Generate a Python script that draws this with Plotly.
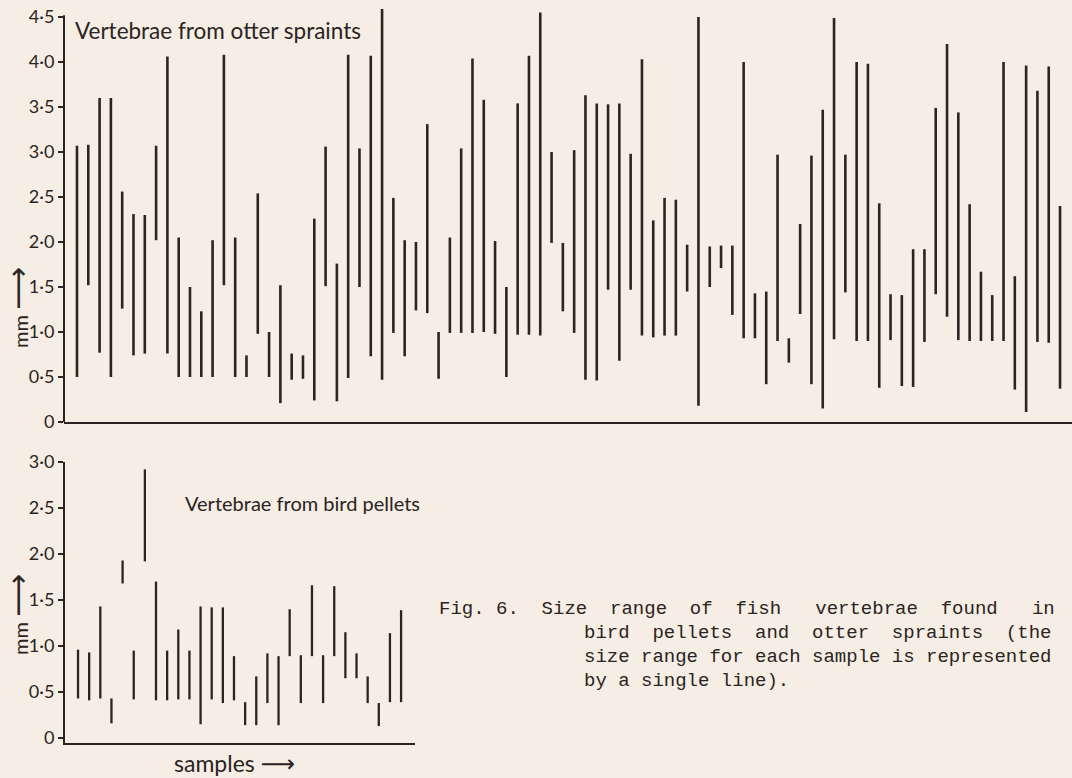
import plotly.graph_objects as go

# ---------------- data ----------------
# Otter spraints: size range (mm) of vertebrae per sample
otter_high = [3.07, 3.08, 3.60, 3.60, 2.56, 2.31, 2.30, 3.07, 4.06, 2.05,
              1.50, 1.23, 2.02, 4.08, 2.05, 0.74, 2.54, 1.00, 1.52, 0.76,
              0.74, 2.26, 3.06, 1.76, 4.08, 3.04, 4.07, 4.59, 2.49, 2.02,
              2.00, 3.31, 1.00, 2.05, 3.04, 4.04, 3.58, 2.01, 1.50, 3.54,
              4.07, 4.55, 3.00, 1.99, 3.02, 3.63, 3.54, 3.53, 3.54, 2.98,
              4.03, 2.24, 2.49, 2.47, 1.97, 4.50, 1.95, 1.96, 1.96, 4.00,
              1.43, 1.45, 2.97, 0.93, 2.20, 2.96, 3.47, 4.49, 2.97, 4.00,
              3.98, 2.43, 1.42, 1.41, 1.92, 1.92, 3.49, 4.20, 3.44, 2.42,
              1.67, 1.41, 4.00, 1.62, 3.96, 3.68, 3.95, 2.40]
otter_low = [0.50, 1.52, 0.77, 0.50, 1.26, 0.74, 0.76, 2.02, 0.76, 0.50,
             0.50, 0.50, 0.50, 1.52, 0.50, 0.50, 0.98, 0.50, 0.21, 0.47,
             0.48, 0.24, 1.51, 0.23, 0.49, 1.50, 0.73, 0.47, 0.99, 0.73,
             1.24, 1.21, 0.48, 0.99, 0.99, 0.99, 1.00, 0.98, 0.50, 0.97,
             0.97, 0.96, 1.99, 1.23, 0.99, 0.47, 0.46, 1.47, 0.68, 1.47,
             0.96, 0.94, 0.96, 0.96, 1.45, 0.18, 1.50, 1.71, 1.19, 0.93,
             0.93, 0.42, 0.90, 0.66, 1.20, 0.42, 0.15, 0.92, 1.44, 0.90,
             0.90, 0.38, 0.91, 0.40, 0.39, 0.89, 1.42, 1.17, 0.91, 0.90,
             0.90, 0.90, 0.90, 0.36, 0.11, 0.89, 0.88, 0.37]

# Bird pellets
bird_high = [0.96, 0.93, 1.43, 0.43, 1.93, 0.95, 2.92, 1.70, 0.95, 1.18,
             0.95, 1.43, 1.42, 1.42, 0.89, 0.39, 0.67, 0.92, 0.89, 1.40,
             0.90, 1.66, 0.90, 1.65, 1.15, 0.92, 0.67, 0.38, 1.14, 1.39]
bird_low = [0.43, 0.41, 0.43, 0.16, 1.68, 0.42, 1.92, 0.41, 0.41, 0.42,
            0.42, 0.15, 0.42, 0.38, 0.41, 0.14, 0.14, 0.38, 0.14, 0.89,
            0.38, 0.89, 0.38, 0.89, 0.65, 0.65, 0.38, 0.13, 0.39, 0.39]

otter_ticks = [0, 0.5, 1.0, 1.5, 2.0, 2.5, 3.0, 3.5, 4.0, 4.5]
otter_ticktext = ["0", "0·5", "1·0", "1·5", "2·0", "2·5", "3·0", "3·5", "4·0", "4·5"]
bird_ticks = [0, 0.5, 1.0, 1.5, 2.0, 2.5, 3.0]
bird_ticktext = ["0", "0·5", "1·0", "1·5", "2·0", "2·5", "3·0"]

title_otter = "Vertebrae from otter spraints"
title_bird = "Vertebrae from bird pellets"
y_label = "mm"
x_label = "samples"
caption_lines = [
    "Fig. 6.  Size  range  of  fish   vertebrae  found   in",
    "bird  pellets  and  otter  spraints  (the",
    "size range for each sample is represented",
    "by a single line).",
]

# ---------------- styling ----------------
W, H = 1072, 778
BG = "#f6ede4"
INK = "#2a2422"
SANS = "Lato, 'DejaVu Sans', sans-serif"
MONO = "'Liberation Mono', 'DejaVu Sans Mono', monospace"


def arrow(size):
    return ("<span style=\"font-family:'DejaVu Sans';font-size:%dpx\">⟶</span>" % size)


def segments(low, high):
    xs, ys = [], []
    for i, (lo, hi) in enumerate(zip(low, high), start=1):
        xs += [i, i, None]
        ys += [lo, hi, None]
    return xs, ys


fig = go.Figure()

ox, oy = segments(otter_low, otter_high)
fig.add_trace(go.Scatter(x=ox, y=oy, mode="lines", xaxis="x", yaxis="y",
                         line=dict(color=INK, width=2.6), hoverinfo="skip",
                         showlegend=False))
bx, by = segments(bird_low, bird_high)
fig.add_trace(go.Scatter(x=bx, y=by, mode="lines", xaxis="x2", yaxis="y2",
                         line=dict(color=INK, width=2.3), hoverinfo="skip",
                         showlegend=False))

n_o = len(otter_high)
n_b = len(bird_high)

tickfont = dict(family=SANS, size=18, color=INK)

fig.update_layout(
    width=W, height=H,
    margin=dict(l=0, r=0, t=0, b=0, autoexpand=False),
    paper_bgcolor=BG, plot_bgcolor=BG,
    xaxis=dict(domain=[64 / W, 1.0], range=[-0.15, n_o + 1.06], automargin=False,
               showgrid=False, zeroline=False, showticklabels=False, ticks="",
               showline=True, linecolor=INK, linewidth=2, anchor="y"),
    yaxis=dict(domain=[(H - 422) / H, 1.0], range=[0, 422 / 90], automargin=False,
               showgrid=False, zeroline=False, showline=False,
               tickvals=otter_ticks, ticktext=otter_ticktext, tickfont=tickfont,
               ticks="outside", ticklen=5, tickwidth=2, tickcolor=INK,
               anchor="x"),
    xaxis2=dict(domain=[65 / W, 415 / W], range=[-0.17, n_b + 1.25], automargin=False,
                showgrid=False, zeroline=False, showticklabels=False, ticks="",
                showline=True, linecolor=INK, linewidth=2, anchor="y2"),
    yaxis2=dict(domain=[(H - 743) / H, (H - 462) / H], range=[-0.054, 3.0],
                automargin=False,
                showgrid=False, zeroline=False, showline=True, linecolor=INK,
                linewidth=2,
                tickvals=bird_ticks, ticktext=bird_ticktext, tickfont=tickfont,
                ticks="outside", ticklen=5, tickwidth=2, tickcolor=INK,
                anchor="x2"),
)

# vertical axis line of the otter panel (stops at 4.5)
fig.add_shape(type="line", xref="x domain", yref="y", x0=0, x1=0, y0=0, y1=4.52,
              line=dict(color=INK, width=2))

ann = []
ann.append(dict(text=title_otter, xref="paper", yref="paper", x=73 / W, y=1 - 30 / H,
                xanchor="left", yanchor="middle", showarrow=False,
                font=dict(family=SANS, size=22.5, color=INK)))
ann.append(dict(text=title_bird, xref="paper", yref="paper", x=183 / W, y=1 - 503 / H,
                xanchor="left", yanchor="middle", showarrow=False,
                font=dict(family=SANS, size=20, color=INK)))
for cy in (308, 615):
    ann.append(dict(text=y_label + " " + arrow(30), xref="paper", yref="paper",
                    x=17 / W, y=1 - cy / H,
                    xanchor="center", yanchor="middle", showarrow=False, textangle=-90,
                    font=dict(family=SANS, size=20, color=INK)))
ann.append(dict(text=x_label + " " + arrow(24), xref="paper", yref="paper", x=172 / W,
                y=1 - 763 / H,
                xanchor="left", yanchor="middle", showarrow=False,
                font=dict(family=SANS, size=23, color=INK)))

cap_x = [437, 582, 582, 582]
cap_y = [609, 633, 657, 681]
for txt, cx, cy in zip(caption_lines, cap_x, cap_y):
    ann.append(dict(text=txt.replace(" ", "\u00a0"), xref="paper", yref="paper",
                    x=cx / W, y=1 - cy / H, xanchor="left", yanchor="middle",
                    showarrow=False, font=dict(family=MONO, size=19, color=INK)))

fig.update_layout(annotations=ann)

fig.write_html(
    "out.html",
    config={"displayModeBar": False},
    post_script="document.body.style.margin='0';"
                "document.body.style.background='" + BG + "';",
)
